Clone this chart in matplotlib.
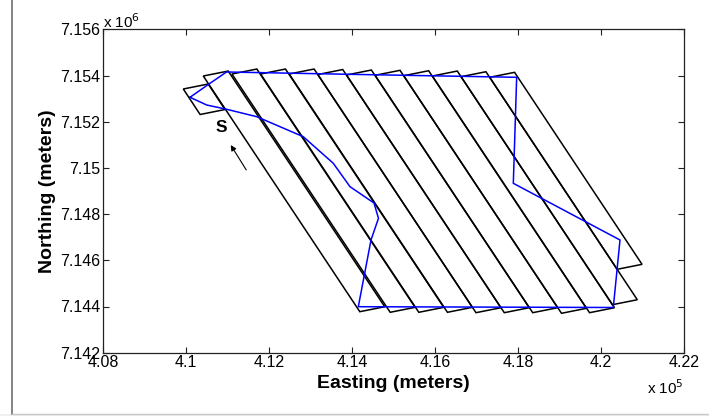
import matplotlib
matplotlib.use('Agg')
import matplotlib.pyplot as plt
from matplotlib.lines import Line2D
from matplotlib.patches import Rectangle

plt.rcParams['font.family'] = ['Liberation Sans', 'DejaVu Sans']

# ---- data (meters) ----
# survey strips: corners in order TL, TR, BR, BL
strip_east = [
    [409935, 410535, 410940, 410340],
    [410417, 411017, 414788, 414188],
    [411107, 411707, 415520, 414920],
    [411797, 412397, 416210, 415610],
    [412487, 413087, 416900, 416300],
    [413177, 413777, 417588, 416988],
    [413867, 414467, 418270, 417670],
    [414557, 415157, 418955, 418355],
    [415247, 415847, 419648, 419048],
    [415937, 416537, 420324, 419724],
    [416627, 417227, 420875, 420275],
    [417317, 417917, 420989, 420389],
]
strip_north = [
    [7153416, 7153631, 7152527, 7152312],
    [7153978, 7154193, 7143990, 7143775],
    [7154065, 7154280, 7143964, 7143749],
    [7154065, 7154280, 7143964, 7143749],
    [7154065, 7154280, 7143964, 7143749],
    [7154043, 7154258, 7143947, 7143732],
    [7154022, 7154237, 7143947, 7143732],
    [7154009, 7154224, 7143947, 7143732],
    [7153991, 7154206, 7143921, 7143706],
    [7153978, 7154193, 7143947, 7143732],
    [7153948, 7154163, 7144293, 7144078],
    [7153922, 7154137, 7145825, 7145610],
]

# boundary path (blue)
path_east = [410096, 410554, 410976, 414193, 417968, 417887, 420458, 420296,
             414152, 414458, 414638, 414530, 413952, 413549, 412826, 411704,
             410981, 410499, 410096]
path_north = [7153056, 7153632, 7154152, 7154043, 7153922, 7149333, 7146879,
              7143957, 7143991, 7146879, 7147818, 7148480, 7149186, 7150199,
              7151351, 7152217, 7152537, 7152723, 7153056]

start_label = 'S'
start_label_pos = (410860, 7151740)
arrow_tail = (411487, 7149810)
arrow_head = (411043, 7151091)

x_ticks = [408000, 410000, 412000, 414000, 416000, 418000, 420000, 422000]
x_tick_labels = ['4.08', '4.1', '4.12', '4.14', '4.16', '4.18', '4.2', '4.22']
y_ticks = [7142000, 7144000, 7146000, 7148000, 7150000, 7152000, 7154000, 7156000]
y_tick_labels = ['7.142', '7.144', '7.146', '7.148', '7.15', '7.152', '7.154', '7.156']

# ---- figure ----
fig = plt.figure(figsize=(7.09, 4.16), dpi=100)
fig.patch.set_facecolor('white')

# window frame look
fig.add_artist(Rectangle((0, 0), 1, 2.0 / 416, transform=fig.transFigure,
                         facecolor='#f0f0f0', edgecolor='none', zorder=0))
fig.add_artist(Line2D([11.5 / 709, 11.5 / 709], [2.0 / 416, 1.0],
                      transform=fig.transFigure, color='#707070', lw=1.2))
fig.add_artist(Line2D([11.5 / 709, 1.0], [2.0 / 416, 2.0 / 416],
                      transform=fig.transFigure, color='#c8c8c8', lw=1.0))

ax = fig.add_axes([103 / 709, 1 - 352.7 / 416, 581 / 709, 323.4 / 416])

for xe, yn in zip(strip_east, strip_north):
    ax.fill(xe, yn, facecolor='none', edgecolor='black', lw=1.1, zorder=2)

ax.plot(path_east, path_north, color='#0000ff', lw=1.1, zorder=3)

ax.text(start_label_pos[0], start_label_pos[1], start_label, fontsize=12.5,
        fontweight='bold', ha='center', va='center')
ax.annotate('', xy=arrow_head, xytext=arrow_tail,
            arrowprops=dict(arrowstyle='-|>', color='black', lw=0.8,
                            mutation_scale=8))

ax.set_xlim(408000, 422000)
ax.set_ylim(7142000, 7156000)
ax.set_xticks(x_ticks)
ax.set_xticklabels(x_tick_labels)
ax.set_yticks(y_ticks)
ax.set_yticklabels(y_tick_labels)
ax.tick_params(direction='in', top=True, right=True, length=4, width=0.8,
               labelsize=11.5, colors='#222222', labelcolor='black', pad=2)
for s in ax.spines.values():
    s.set_linewidth(0.9)
    s.set_color('#222222')

ax.set_xlabel('Easting (meters)', fontsize=14, fontweight='bold', labelpad=3)
ax.set_ylabel('Northing (meters)', fontsize=14, fontweight='bold', labelpad=3)

fig.text(103 / 709, 1 - 22 / 416, r'x 10$^{6}$', fontsize=11, ha='left',
         va='center')
fig.text(647 / 709, 1 - 388 / 416, r'x 10$^{5}$', fontsize=11, ha='left',
         va='center')

fig.savefig('out.png', dpi=100)
